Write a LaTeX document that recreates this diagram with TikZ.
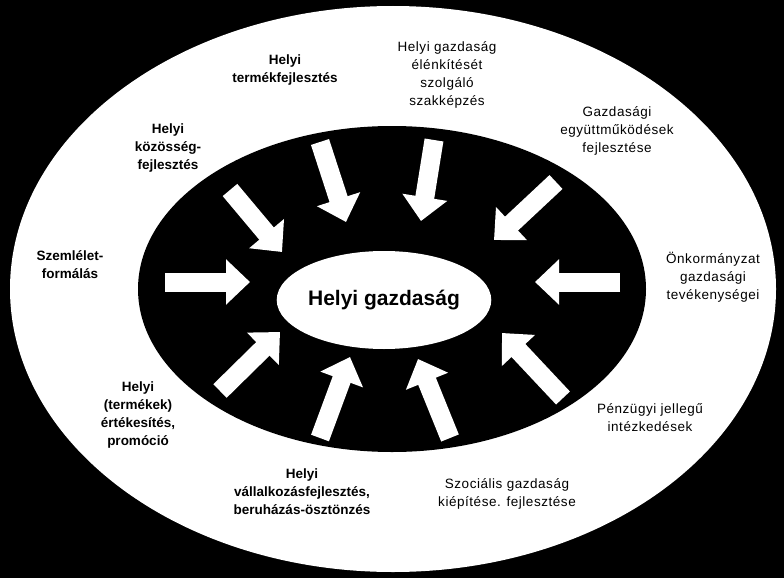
\documentclass[tikz,border=0pt]{standalone}
\usepackage{fontspec}
\setmainfont{Liberation Sans}
\usetikzlibrary{arrows.meta,shapes.geometric}
\tikzset{
  push/.style={white, line width=19pt, -{Triangle[width=44pt,length=24pt]}},
  lbl/.style={align=center, font=\fontsize{13.5}{18}\selectfont\addfontfeature{LetterSpace=4}},
  lblb/.style={align=center, font=\fontsize{13.5}{18}\selectfont\bfseries}
}
\begin{document}
\begin{tikzpicture}[x=1pt,y=-1pt]
  \fill[black] (0,0) rectangle (784,578);
  \useasboundingbox (0,0) rectangle (784,578);
  \fill[white] (393,289) ellipse [x radius=383, y radius=283];
  \fill[black] (392,289) ellipse [x radius=254, y radius=163];
  \node[fill=white, ellipse, minimum width=212pt, minimum height=98pt, inner sep=0pt,
        font=\fontsize{21}{24}\selectfont\bfseries] (hg) at (384,300) {Helyi gazdaság};

  % arrows towards the centre
  \coordinate (t1) at (165,282); \coordinate (h1) at (250,282);
  \coordinate (t2) at (620,282); \coordinate (h2) at (535,282);
  \coordinate (t3) at (230,190); \coordinate (h3) at (282,252);
  \coordinate (t4) at (320,142); \coordinate (h4) at (346,222);
  \coordinate (t5) at (434,140); \coordinate (h5) at (421,221);
  \coordinate (t6) at (556,182); \coordinate (h6) at (494,240);
  \coordinate (t7) at (220,391); \coordinate (h7) at (280,332);
  \coordinate (t8) at (320,438); \coordinate (h8) at (350,357);
  \coordinate (t9) at (450,438); \coordinate (h9) at (418,359);
  \coordinate (t10) at (563,398); \coordinate (h10) at (502,333);
  \foreach \i in {1,...,10} \draw[push] (t\i) -- (h\i);

  \node[lblb] (a) at (285,70) {Helyi\\termékfejlesztés};
  \node[lbl] (b) at (447,75) {Helyi gazdaság\\élénkítését\\szolgáló\\szakképzés};
  \node[lbl] (c) at (617,131) {Gazdasági\\együttműködések\\fejlesztése};
  \node[lblb] (d) at (168,148) {Helyi\\közösség-\\fejlesztés};
  \node[lblb] (e) at (70,265) {Szemlélet-\\formálás};
  \node[lbl] (f) at (713,277) {Önkormányzat\\gazdasági\\tevékenységei};
  \node[lblb] (g) at (138,415) {Helyi\\(termékek)\\értékesítés,\\promóció};
  \node[lbl] (h) at (650,418) {Pénzügyi jellegű\\intézkedések};
  \node[lblb] (i) at (302,492) {Helyi\\vállalkozásfejlesztés,\\beruházás-ösztönzés};
  \node[lbl] (j) at (507,494) {Szociális gazdaság\\kiépítése. fejlesztése};
\end{tikzpicture}
\end{document}
